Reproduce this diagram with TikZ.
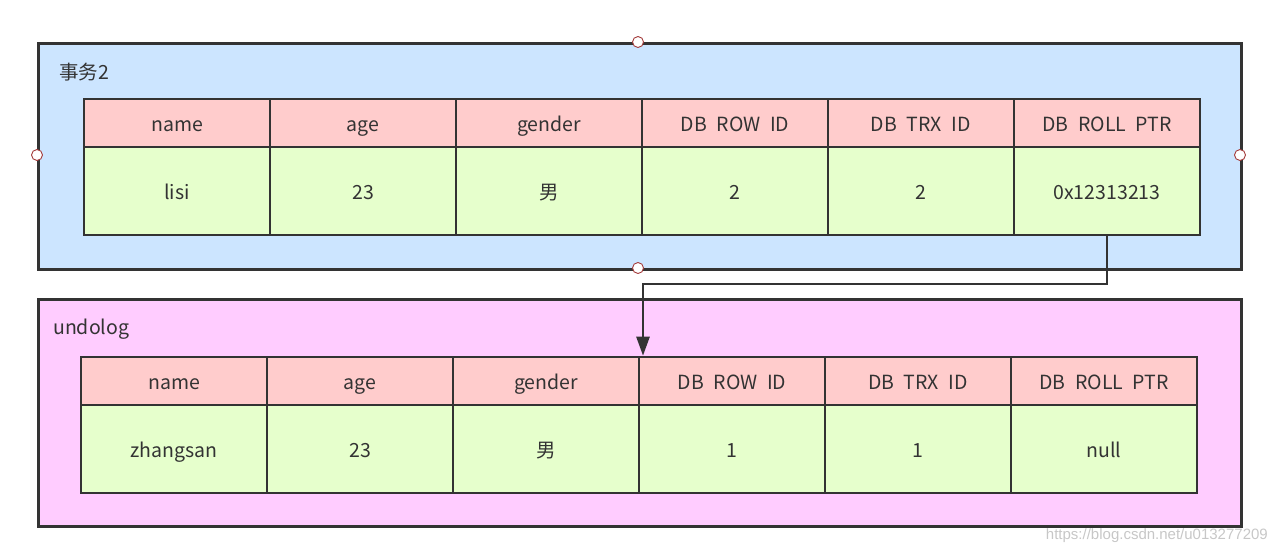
\documentclass[tikz,border=0pt]{standalone}
\usepackage{fontspec}
\setmainfont{Noto Sans CJK SC}
\newfontfamily\wmfont{Liberation Sans}
\usetikzlibrary{arrows.meta}
\definecolor{boxblue}{HTML}{CCE5FF}
\definecolor{boxpink}{HTML}{FFCCFF}
\definecolor{hdr}{HTML}{FFCCCC}
\definecolor{dat}{HTML}{E6FFCC}
\definecolor{edgec}{HTML}{333333}
\definecolor{portc}{HTML}{A33B3B}
\begin{document}
\begin{tikzpicture}[x=1pt,y=-1pt,
  font=\fontsize{19.5}{23}\selectfont, text=edgec,
  outer/.style={draw=edgec, line width=2.6pt, anchor=north west, inner sep=0pt, minimum width=1203pt},
  cellbase/.style={draw=edgec, line width=2.6pt, minimum width=186pt, inner sep=0pt, text height=17.5pt, text depth=0.5pt},
  hcell/.style={cellbase, fill=hdr, minimum height=48pt},
  dcell/.style={cellbase, fill=dat, minimum height=88pt},
  portdot/.style={circle, draw=portc, fill=white, line width=0.9pt, minimum size=11pt, inner sep=0pt},
  lbl/.style={anchor=west, inner sep=0pt},
  link/.style={draw=edgec, line width=2.6pt, -{Triangle[length=19pt,width=13pt]}}]
\useasboundingbox (0,0) rectangle (1278,554);
% outer containers
\node[outer, fill=boxblue, minimum height=226pt] (tx) at (37,42) {};
\node[outer, fill=boxpink, minimum height=227pt] (ul) at (37,298) {};
\node[lbl] (txl) at (59,72) {事务2};
\node[lbl] (ull) at (53,329) {undolog};
% top table
\foreach \t [count=\i] in {name,age,gender,DB\enspace ROW\enspace ID,DB\enspace TRX\enspace ID,DB\enspace ROLL\enspace PTR}
  \node[hcell] (th\i) at ({84+93+186*(\i-1)},123) {\t};
\foreach \t [count=\i] in {lisi,23,男,2,2,0x12313213}
  \node[dcell] (td\i) at ({84+93+186*(\i-1)},191) {\t};
% bottom table
\foreach \t [count=\i] in {name,age,gender,DB\enspace ROW\enspace ID,DB\enspace TRX\enspace ID,DB\enspace ROLL\enspace PTR}
  \node[hcell] (bh\i) at ({81+93+186*(\i-1)},381) {\t};
\foreach \t [count=\i] in {zhangsan,23,男,1,1,null}
  \node[dcell] (bd\i) at ({81+93+186*(\i-1)},449) {\t};
% ports
\node[portdot] (p1) at (638,42) {};
\node[portdot] (p2) at (37,155) {};
\node[portdot] (p3) at (1240,155) {};
\node[portdot] (p4) at (638,268) {};
% connector
\coordinate (mid) at (643,284);
\draw[link] (td6.south) |- (mid) -- (mid |- bh4.north);
% watermark
\node[anchor=east, inner sep=0pt, text=black!22, font=\wmfont\fontsize{15}{18}\selectfont] (wm) at (1268,536) {https://blog.csdn.net/u013277209};
\end{tikzpicture}
\end{document}
